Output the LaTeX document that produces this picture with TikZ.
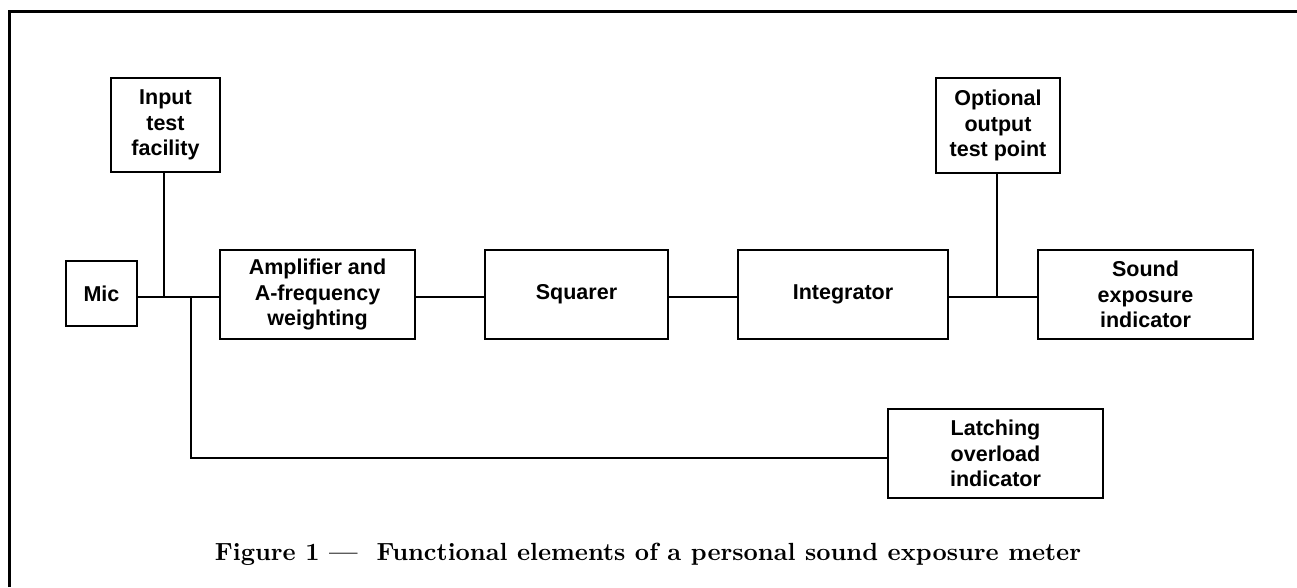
\documentclass[tikz,border=0pt]{standalone}
\usepackage{fontspec}
\newfontfamily\boxfont{Liberation Sans}
\tikzset{
  blk/.style={draw, line width=2.8pt, rectangle, inner sep=0pt, align=center,
    font=\boxfont\bfseries\fontsize{21.5}{25.5}\selectfont},
  conn/.style={line width=2.5pt},
  frame/.style={line width=3pt}
}
\begin{document}
\begin{tikzpicture}[x=1pt,y=-1pt]
\useasboundingbox (0,0) rectangle (1297,587);
\draw[frame] (9,587) -- (9,11) -- (1297,11);
\node[blk, minimum width=109pt, minimum height=94pt] (inp) at (165.5,125) {Input\\test\\facility};
\node[blk, minimum width=71pt, minimum height=65pt] (mic) at (101.5,293.5) {Mic};
\node[blk, minimum width=195pt, minimum height=89pt] (amp) at (317.5,294.5) {Amplifier and\\A-frequency\\weighting};
\node[blk, minimum width=183pt, minimum height=89pt] (sq) at (576.5,294.5) {Squarer};
\node[blk, minimum width=210pt, minimum height=89pt] (integ) at (843,294.5) {Integrator};
\node[blk, minimum width=124pt, minimum height=95pt] (opt) at (998,125.5) {Optional\\output\\test point};
\node[blk, minimum width=215pt, minimum height=89pt] (snd) at (1145.5,294.5) {Sound\\exposure\\indicator};
\node[blk, minimum width=215pt, minimum height=89pt] (latch) at (995.5,453.5) {Latching\\overload\\indicator};
\coordinate (j1) at (164,297);
\coordinate (j2) at (191,297);
\coordinate (jl) at (191,458);
\coordinate (j3) at (997,297);
\draw[conn] (mic.east |- j1) -- (amp.west |- j1);
\draw[conn] (inp.south -| j1) -- (j1);
\draw[conn] (j2) -- (jl) -- (latch.west |- jl);
\draw[conn] (amp.east |- j1) -- (sq.west |- j1);
\draw[conn] (sq.east |- j1) -- (integ.west |- j1);
\draw[conn] (integ.east |- j3) -- (snd.west |- j3);
\draw[conn] (opt.south -| j3) -- (j3);
\node[inner sep=0pt, anchor=base] (cap) at (648,560) {\resizebox{866pt}{!}{\bfseries Figure 1 --- \ Functional elements of a personal sound exposure meter}};
\end{tikzpicture}
\end{document}
